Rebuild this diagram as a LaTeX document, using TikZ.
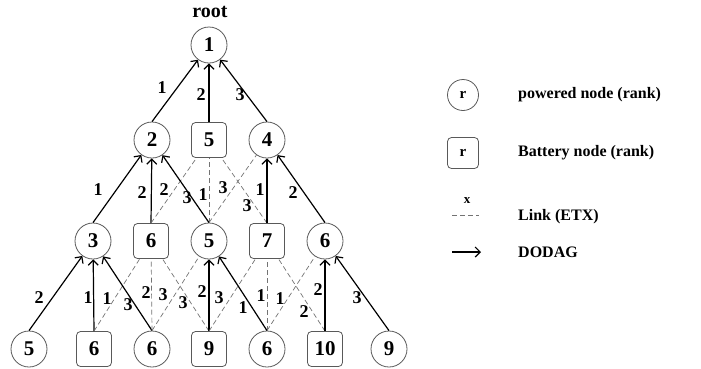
\documentclass[tikz,border=0pt]{standalone}
\usepackage{fontspec}
\setmainfont{Liberation Serif}
\usetikzlibrary{arrows.meta}
\definecolor{nodeline}{gray}{0.35}
\definecolor{linkgray}{gray}{0.45}
\begin{document}
\begin{tikzpicture}[x=1pt,y=-1pt,
  pnode/.style={circle,draw=nodeline,line width=0.8pt,minimum size=36pt,inner sep=0pt,
    font=\bfseries\fontsize{21}{21}\selectfont},
  bnode/.style={rectangle,rounded corners=4pt,draw=nodeline,line width=0.8pt,minimum size=35pt,
    inner sep=0pt,font=\bfseries\fontsize{21}{21}\selectfont},
  dodag/.style={line width=1.2pt,-{Straight Barb[length=5pt,width=10pt]}},
  etx/.style={draw=linkgray,line width=0.7pt,dash pattern=on 5pt off 3pt},
  lbl/.style={font=\bfseries\fontsize{18}{18}\selectfont,inner sep=0pt},
  legtext/.style={anchor=west,inner sep=0pt,font=\bfseries\fontsize{16}{16}\selectfont}]
\useasboundingbox (0,0) rectangle (701,368);

% DODAG root
\node[font=\bfseries\fontsize{20}{20}\selectfont,inner sep=0pt] (rootlbl) at (210,12) {root};
\node[pnode] (r1) at (209,45) {1};

% rank 2
\node[pnode] (a2) at (152,140) {2};
\node[bnode] (a5) at (209,140) {5};
\node[pnode] (a4) at (267,140) {4};

% rank 3
\node[pnode] (b3) at (93,241) {3};
\node[bnode] (b6) at (151,241) {6};
\node[pnode] (b5) at (209,241) {5};
\node[bnode] (b7) at (267,241) {7};
\node[pnode] (b6p) at (325,241) {6};

% leaves
\node[pnode] (c5) at (29,349) {5};
\node[bnode] (c6b) at (94,349) {6};
\node[pnode] (c6) at (152,349) {6};
\node[bnode] (c9b) at (209,349) {9};
\node[pnode] (c6r) at (267,349) {6};
\node[bnode] (c10) at (325,349) {10};
\node[pnode] (c9) at (389,349) {9};

% links to the root
\draw[dodag] (a2.north) -- (r1) node[lbl] (e1) at (162,88) {1};
\draw[dodag] (a5.north) -- (r1) node[lbl] (e2) at (201,95) {2};
\draw[dodag] (a4.north) -- (r1) node[lbl] (e3) at (240,95) {3};

% rank 3 -> rank 2
\draw[dodag] (b3.north) -- (a2) node[lbl] (e4) at (98,190) {1};
\draw[dodag] (b6.north) -- (a2) node[lbl] (e5) at (142,193) {2};
\draw[etx] (b6.north) -- (a5) node[lbl] (e6) at (164,190) {2};
\draw[dodag] (b5.north) -- (a2) node[lbl] (e7) at (187,198) {3};
\draw[etx] (b5.north) -- (a5) node[lbl] (e8) at (203,195) {1};
\draw[etx] (b5.north) -- (a4) node[lbl] (e9) at (223,188) {3};
\draw[etx] (b7.north) -- (a5) node[lbl] (e10) at (247,206) {3};
\draw[dodag] (b7.north) -- (a4) node[lbl] (e11) at (260,190) {1};
\draw[dodag] (b6p.north) -- (a4) node[lbl] (e12) at (293,193) {2};

% leaves -> rank 3
\draw[dodag] (c5.north) -- (b3) node[lbl] (e13) at (39,298) {2};
\draw[dodag] (c6b.north) -- (b3) node[lbl] (e14) at (88,298) {1};
\draw[etx] (c6b.north) -- (b6) node[lbl] (e15) at (107,299) {1};
\draw[dodag] (c6.north) -- (b3) node[lbl] (e16) at (128,305) {3};
\draw[etx] (c6.north) -- (b6) node[lbl] (e17) at (146,293) {2};
\draw[etx] (c6.north) -- (b5) node[lbl] (e18) at (163,295) {3};
\draw[etx] (c9b.north) -- (b6) node[lbl] (e19) at (183,303) {3};
\draw[dodag] (c9b.north) -- (b5) node[lbl] (e20) at (202,292) {2};
\draw[etx] (c9b.north) -- (b7) node[lbl] (e21) at (219,298) {3};
\draw[dodag] (c6r.north) -- (b5) node[lbl] (e22) at (243,308) {1};
\draw[etx] (c6r.north) -- (b7) node[lbl] (e23) at (261,296) {1};
\draw[etx] (c6r.north) -- (b6p) node[lbl] (e24) at (280,299) {1};
\draw[etx] (c10.north) -- (b7) node[lbl] (e25) at (304,312) {2};
\draw[dodag] (c10.north) -- (b6p) node[lbl] (e26) at (318,290) {2};
\draw[dodag] (c9.north) -- (b6p) node[lbl] (e27) at (357,298) {3};

% legend
\node[pnode,minimum size=31pt,font=\bfseries\fontsize{15}{15}\selectfont] (kp) at (463,95) {r};
\node[legtext] (kpt) at (518,95) {powered node (rank)};
\node[bnode,minimum size=31pt,font=\bfseries\fontsize{15}{15}\selectfont] (kb) at (463,153) {r};
\node[legtext] (kbt) at (518,153) {Battery node (rank)};
\coordinate (kl1) at (452,215);
\coordinate (kl2) at (479,215);
\draw[etx] (kl1) -- (kl2);
\node[inner sep=0pt,font=\bfseries\fontsize{13}{13}\selectfont] (klx) at (467,201) {x};
\node[legtext] (klt) at (518,217) {Link (ETX)};
\coordinate (ka1) at (452,252);
\coordinate (ka2) at (481,252);
\draw[dodag] (ka1) -- (ka2);
\node[legtext] (kat) at (518,252) {DODAG};
\end{tikzpicture}
\end{document}
